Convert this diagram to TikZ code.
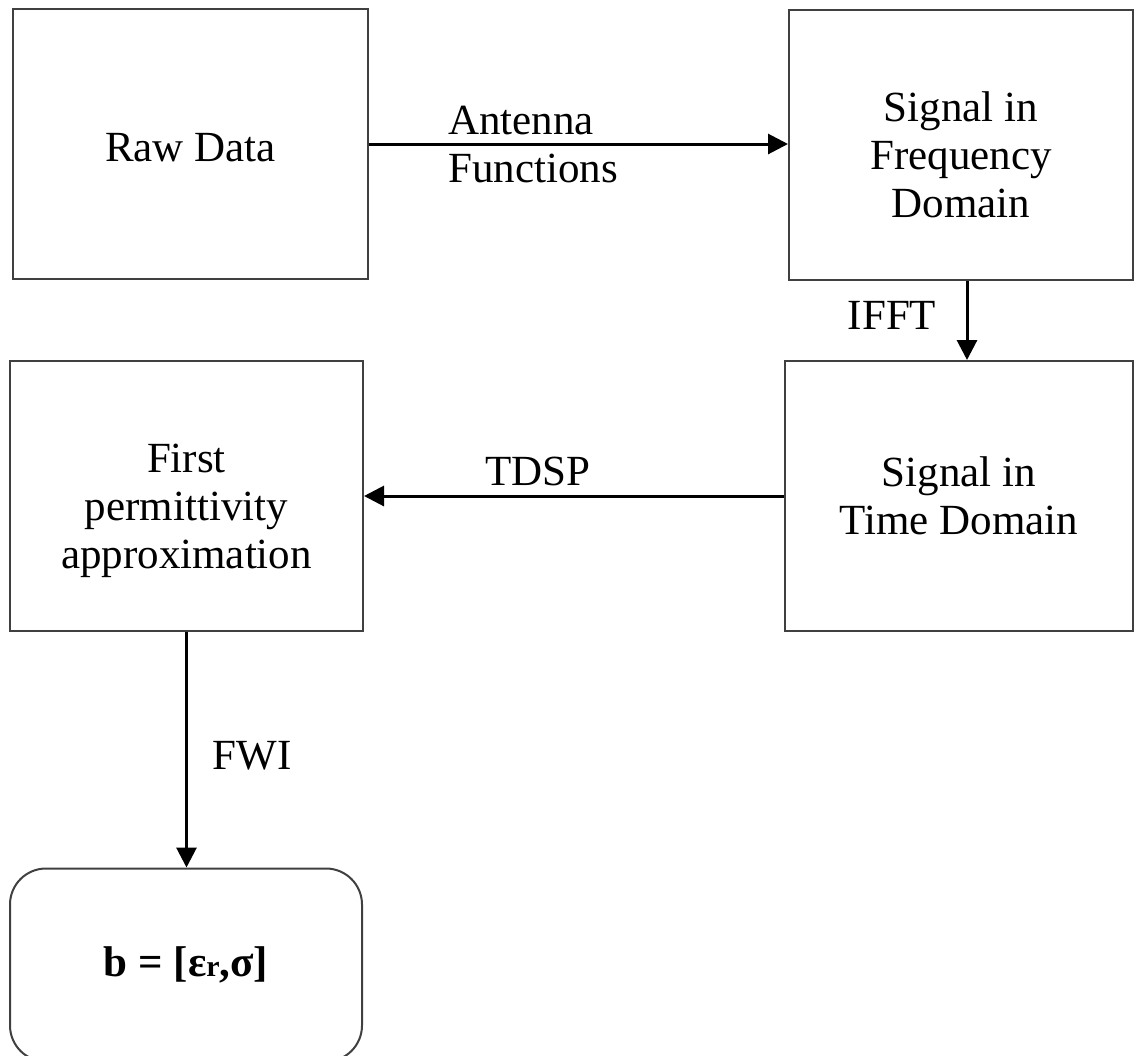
\documentclass[tikz,border=0pt]{standalone}
\usepackage{fontspec}
\setmainfont{Liberation Serif}
\usetikzlibrary{arrows.meta}

% extra room above the first line of a block
\newcommand{\topgap}[1]{\rule{0pt}{#1}}

\begin{document}
\begin{tikzpicture}[
    x=0.5pt, y=-0.5pt,
    font=\fontsize{21.5}{24}\selectfont,
    every node/.style = {align=center, inner sep=0pt},
    box/.style = {draw=black!75, line width=1pt, minimum height=135pt},
    arrow/.style = {line width=1.5pt, -{Triangle[length=10pt, width=10pt]}}
    ]
    \useasboundingbox (0,0) rectangle (1135,1055);
    % blocks
    \node[box, minimum width=177.5pt] (raw)  at (190.5,144) {\topgap{18pt}Raw Data};
    \node[box, minimum width=172pt]   (freq) at (961,145)   {\topgap{25pt}Signal in\\Frequency\\Domain};
    \node[box, minimum width=174pt]   (time) at (959,496)   {Signal in\\Time Domain};
    \node[box, minimum width=176.5pt] (perm) at (186.5,496) {\topgap{29pt}First\\permittivity\\approximation};
    \node[box, minimum width=176pt, minimum height=96.5pt, rounded corners=18pt]
        (res) at (186,965) {\bfseries b = [ε{\fontsize{15}{16}\selectfont r},σ]};
    % labels
    \node[anchor=west, align=left] (antenna) at (448,145) {Antenna\\Functions};
    \node (ifft) at (892,315) {IFFT};
    \node (tdsp) at (538,471) {TDSP};
    \node (fwi)  at (252,756) {FWI};
    % connectors
    \draw[arrow] (raw.east) -- (raw.east -| freq.west);
    \draw[arrow] ([xshift=3pt]freq.south) -- ([xshift=3pt]freq.south |- time.north);
    \draw[arrow] (time.west) -- (time.west -| perm.east);
    \draw[arrow] (perm.south) -- (perm.south |- res.north);
\end{tikzpicture}
\end{document}
